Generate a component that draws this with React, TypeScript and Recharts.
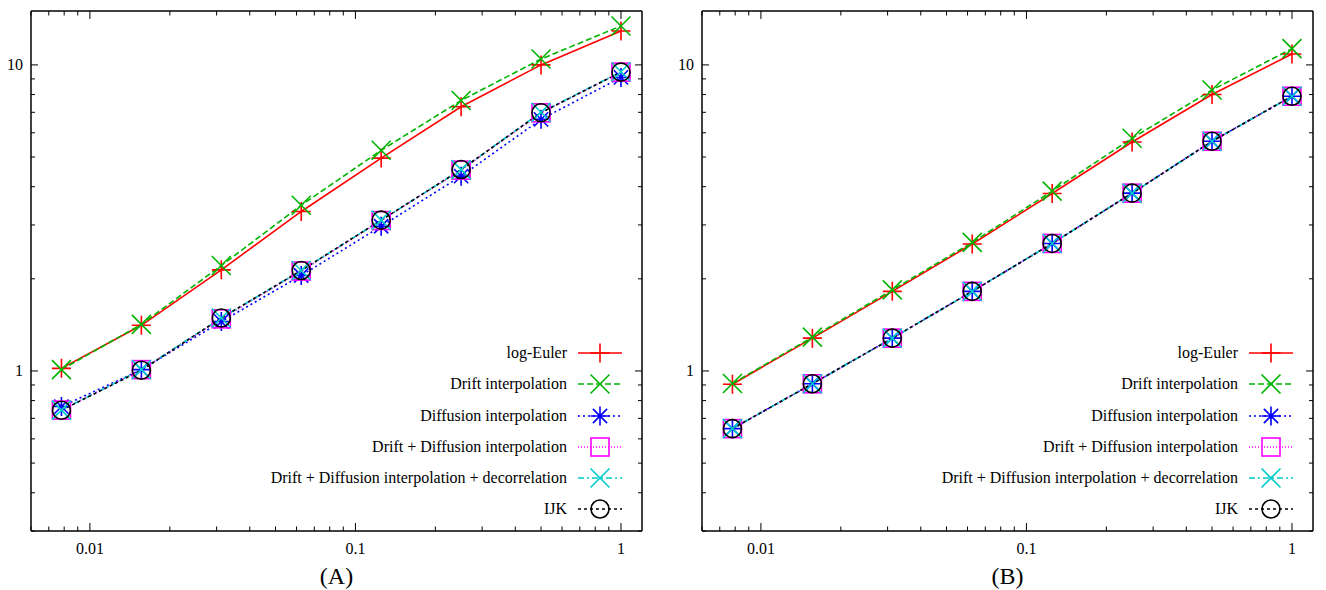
import { LineChart, Line, XAxis, YAxis, Legend } from 'recharts'

const FONT = '"Liberation Serif", "Times New Roman", serif'

// step sizes h = 2^-7 ... 2^0
const stepSizes = [0.0078125, 0.015625, 0.03125, 0.0625, 0.125, 0.25, 0.5, 1]

// panel (A)
const logEulerA = [1.02, 1.41, 2.14, 3.32, 4.96, 7.3, 10.0, 12.9]
const driftA = [1.01, 1.42, 2.21, 3.48, 5.26, 7.65, 10.45, 13.4]
const diffusionA = [0.765, 1.01, 1.45, 2.05, 2.97, 4.33, 6.64, 9.1]
const driftDiffA = [0.745, 1.01, 1.48, 2.12, 3.1, 4.53, 6.97, 9.47]
const decorrA = [0.745, 1.01, 1.49, 2.13, 3.11, 4.55, 7.0, 9.5]
const ijkA = [0.744, 1.005, 1.49, 2.13, 3.11, 4.55, 6.98, 9.47]

// panel (B)
const logEulerB = [0.905, 1.28, 1.82, 2.6, 3.8, 5.6, 8.0, 10.85]
const driftB = [0.91, 1.29, 1.84, 2.63, 3.87, 5.76, 8.28, 11.3]
const diffusionB = [0.648, 0.908, 1.28, 1.82, 2.61, 3.81, 5.63, 7.9]
const driftDiffB = [0.648, 0.908, 1.28, 1.82, 2.61, 3.81, 5.63, 7.9]
const decorrB = [0.648, 0.908, 1.28, 1.82, 2.61, 3.81, 5.63, 7.9]
const ijkB = [0.648, 0.908, 1.28, 1.82, 2.61, 3.81, 5.63, 7.9]

const xTicks = [
  0.006, 0.007, 0.008, 0.009, 0.01, 0.02, 0.03, 0.04, 0.05, 0.06, 0.07, 0.08, 0.09,
  0.1, 0.2, 0.3, 0.4, 0.5, 0.6, 0.7, 0.8, 0.9, 1,
]
const yTicks = [0.3, 0.4, 0.5, 0.6, 0.7, 0.8, 0.9, 1, 2, 3, 4, 5, 6, 7, 8, 9, 10]

const SERIES = [
  { key: 'logEuler', name: 'log-Euler', color: '#ff0000', dash: undefined, marker: 'plus' },
  { key: 'drift', name: 'Drift interpolation', color: '#00b400', dash: '6 3', marker: 'cross' },
  { key: 'diffusion', name: 'Diffusion interpolation', color: '#0000ff', dash: '2 3', marker: 'star' },
  { key: 'driftDiff', name: 'Drift + Diffusion interpolation', color: '#ff00ff', dash: '1 2', marker: 'square' },
  { key: 'decorr', name: 'Drift + Diffusion interpolation + decorrelation', color: '#00cccc', dash: '6 3 2 3', marker: 'cross' },
  { key: 'ijk', name: 'IJK', color: '#000000', dash: '3 3', marker: 'circle' },
]

const build = (cols: Record<string, number[]>) =>
  stepSizes.map((h, i) => {
    const row: Record<string, number> = { h }
    Object.keys(cols).forEach((k) => (row[k] = cols[k][i]))
    return row
  })

const dataA = build({ logEuler: logEulerA, drift: driftA, diffusion: diffusionA, driftDiff: driftDiffA, decorr: decorrA, ijk: ijkA })
const dataB = build({ logEuler: logEulerB, drift: driftB, diffusion: diffusionB, driftDiff: driftDiffB, decorr: decorrB, ijk: ijkB })

const isMajor = (v: number) => Math.abs(Math.log10(v) - Math.round(Math.log10(v))) < 1e-6

function Marker({ kind, cx, cy, color }: { kind: string; cx: number; cy: number; color: string }) {
  const s = 9.5
  const common = { stroke: color, strokeWidth: 1.6, fill: 'none' }
  if (kind === 'plus') return <path d={`M${cx - s},${cy}H${cx + s}M${cx},${cy - s}V${cy + s}`} {...common} />
  if (kind === 'cross')
    return <path d={`M${cx - s},${cy - s}L${cx + s},${cy + s}M${cx - s},${cy + s}L${cx + s},${cy - s}`} {...common} />
  if (kind === 'star') {
    const d = s * 0.75
    return (
      <path
        d={`M${cx - s},${cy}H${cx + s}M${cx},${cy - s}V${cy + s}M${cx - d},${cy - d}L${cx + d},${cy + d}M${cx - d},${cy + d}L${cx + d},${cy - d}`}
        {...common}
      />
    )
  }
  if (kind === 'square') return <rect x={cx - 9} y={cy - 9} width={18} height={18} {...common} />
  return <circle cx={cx} cy={cy} r={9} {...common} />
}

function XTick(props: any) {
  const { x, y, payload, side } = props
  const v = payload.value
  const major = isMajor(v)
  const len = major ? 8 : 4.5
  const dir = side === 'bottom' ? -1 : 1
  return (
    <g>
      <line x1={x} x2={x} y1={y} y2={y + dir * len} stroke="#000" strokeWidth={1} />
      {major && side === 'bottom' && (
        <text x={x} y={y + 23} textAnchor="middle" fontFamily={FONT} fontSize={16} fill="#000">
          {String(v)}
        </text>
      )}
    </g>
  )
}

function YTick(props: any) {
  const { x, y, payload, side } = props
  const v = payload.value
  const major = isMajor(v)
  const len = major ? 7 : 4
  const dir = side === 'left' ? 1 : -1
  return (
    <g>
      <line x1={x} x2={x + dir * len} y1={y} y2={y} stroke="#000" strokeWidth={1} />
      {major && side === 'left' && (
        <text x={x - 8} y={y + 5.5} textAnchor="end" fontFamily={FONT} fontSize={16} fill="#000">
          {String(v)}
        </text>
      )}
    </g>
  )
}

function LegendBox() {
  return (
    <div style={{ fontFamily: FONT, fontSize: 16, color: '#000' }}>
      {SERIES.map((s) => (
        <div key={s.key} style={{ display: 'flex', alignItems: 'center', justifyContent: 'flex-end', height: 31.2 }}>
          <span style={{ marginRight: 5, whiteSpace: 'nowrap' }}>{s.name}</span>
          <svg width={56} height={24} style={{ display: 'block' }}>
            <line x1={6} x2={50} y1={12} y2={12} stroke={s.color} strokeWidth={1.6} strokeDasharray={s.dash} />
            <Marker kind={s.marker} cx={28} cy={12} color={s.color} />
          </svg>
        </div>
      ))}
    </div>
  )
}

const axisLine = { stroke: '#000', strokeWidth: 1.5 }

const xAxisCommon = {
  dataKey: 'h',
  type: 'number' as const,
  scale: 'log' as const,
  domain: [0.006, 1.2],
  allowDataOverflow: true,
  ticks: xTicks,
  interval: 0,
  height: 1,
  tickSize: 0,
  tickMargin: 0,
  tickLine: false,
  axisLine,
}

const yAxisCommon = {
  type: 'number' as const,
  scale: 'log' as const,
  domain: [0.3, 15],
  allowDataOverflow: true,
  ticks: yTicks,
  interval: 0,
  width: 1,
  tickSize: 0,
  tickMargin: 0,
  tickLine: false,
  axisLine,
}

function Panel({ title, data, margin, legendLeft }: { title: string; data: any[]; margin: any; legendLeft: number }) {
  return (
    <LineChart width={663} height={590} data={data} margin={margin}>
      <XAxis
        {...xAxisCommon}
        tick={<XTick side="bottom" />}
        label={{ value: title, position: 'bottom', offset: 35, fill: '#000', fontSize: 24, fontFamily: FONT }}
      />
      <XAxis {...xAxisCommon} xAxisId="top" orientation="top" tick={<XTick side="top" />} />
      <YAxis {...yAxisCommon} tick={<YTick side="left" />} />
      <YAxis {...yAxisCommon} yAxisId="right" orientation="right" tick={<YTick side="right" />} />
      {SERIES.map((s) => (
        <Line
          key={s.key}
          type="linear"
          dataKey={s.key}
          name={s.name}
          stroke={s.color}
          strokeWidth={1.6}
          strokeDasharray={s.dash}
          isAnimationActive={false}
          dot={(p: any) => <Marker key={`${s.key}-${p.index}`} kind={s.marker} cx={p.cx} cy={p.cy} color={s.color} />}
          activeDot={false}
        />
      ))}
      <Legend
        layout="vertical"
        align="center"
        verticalAlign="middle"
        content={() => <LegendBox />}
        wrapperStyle={{ left: legendLeft, top: 337.7, width: 400 }}
      />
    </LineChart>
  )
}

export default function App() {
  return (
    <div style={{ position: 'absolute', left: 0, top: 0, width: 1326, height: 590, background: '#fff' }}>
      <div style={{ position: 'absolute', left: 0, top: 0 }}>
        <Panel title="(A)" data={dataA} margin={{ top: 10, right: 20, bottom: 58, left: 30 }} legendLeft={228} />
      </div>
      <div style={{ position: 'absolute', left: 663, top: 0 }}>
        <Panel title="(B)" data={dataB} margin={{ top: 10, right: 12, bottom: 58, left: 38 }} legendLeft={236} />
      </div>
    </div>
  )
}
